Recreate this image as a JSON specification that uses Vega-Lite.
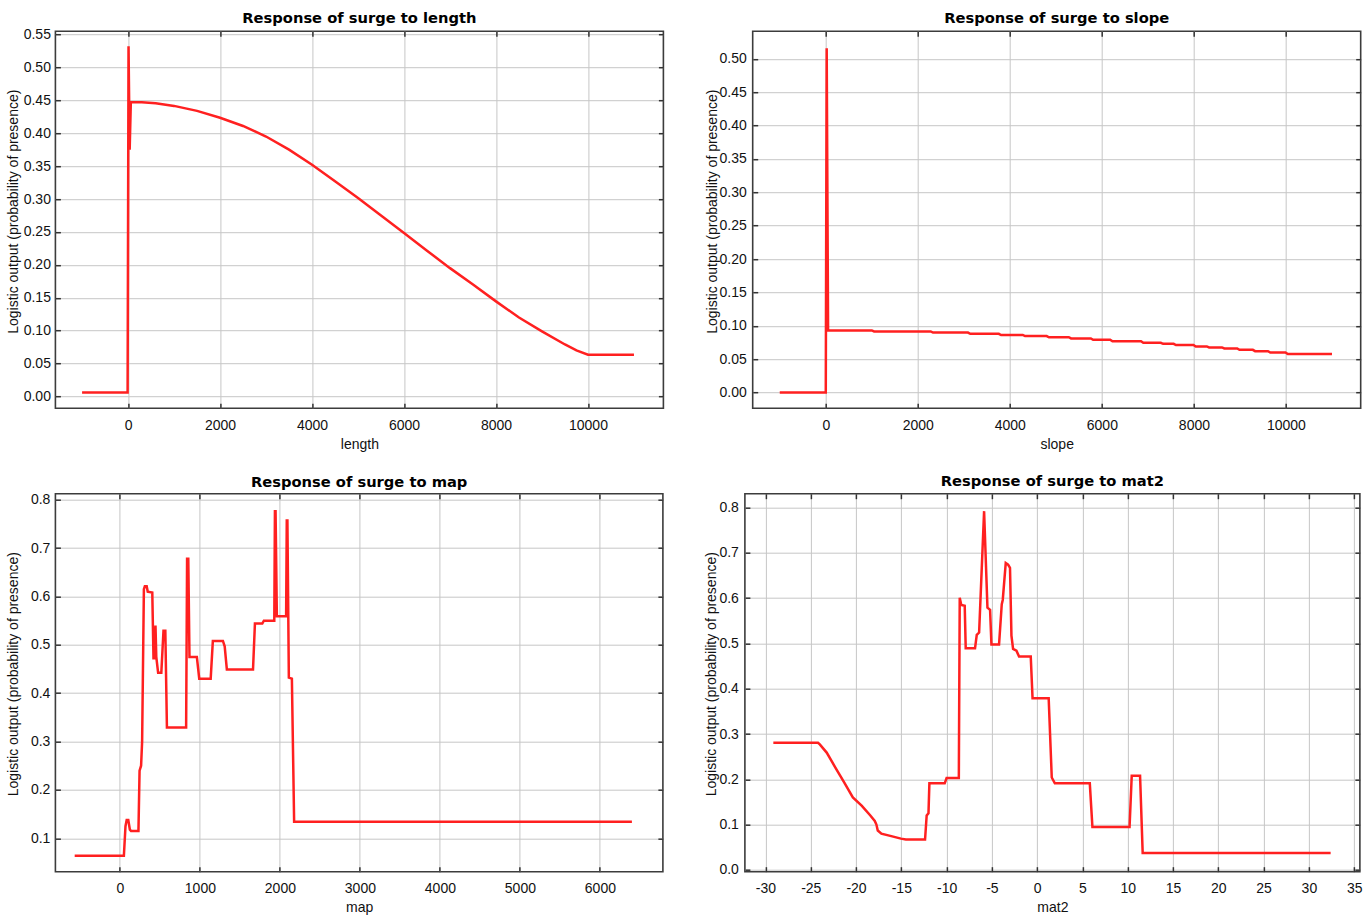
{
  "$schema": "https://vega.github.io/schema/vega-lite/v6.json",
  "background": "white",
  "padding": {"left": 5.4, "top": 9.2, "right": 4, "bottom": 0},
  "config": {
    "view": {"stroke": "#3c3c3c", "strokeWidth": 1.6},
    "axis": {
      "labelFont": "Liberation Sans", "labelFontSize": 14, "labelColor": "#111111",
      "titleFont": "Liberation Sans", "titleFontSize": 14, "titleFontWeight": "normal", "titleColor": "#111111",
      "gridColor": "#c6c6c6", "gridWidth": 1, "gridOpacity": 1,
      "tickColor": "#333333", "tickWidth": 1.5, "domain": false,
      "labelOverlap": false, "labelFlush": false, "labelBound": false
    },
    "title": {"font": "DejaVu Sans", "fontSize": 14.7, "fontWeight": "bold", "color": "#000000", "anchor": "middle", "frame": "group"},
    "line": {"color": "#ff2020", "strokeWidth": 2.5}
  },
  "spacing": 20.5,
  "vconcat": [
    {
      "spacing": 38.3,
      "hconcat": [
        {
          "width": 608, "height": 377,
          "title": {"text": "Response of surge to length", "offset": 1.5, "frame": "group"},
          "data": {"values": [
            {"value": -1000, "probability": 0.006}, {"value": -10, "probability": 0.006},
            {"value": 10, "probability": 0.532}, {"value": 35, "probability": 0.375},
            {"value": 60, "probability": 0.447}, {"value": 300, "probability": 0.447},
            {"value": 600, "probability": 0.4455}, {"value": 1000, "probability": 0.4415},
            {"value": 1500, "probability": 0.434}, {"value": 2000, "probability": 0.4235},
            {"value": 2500, "probability": 0.411}, {"value": 3000, "probability": 0.395},
            {"value": 3500, "probability": 0.375}, {"value": 4000, "probability": 0.352},
            {"value": 4500, "probability": 0.327}, {"value": 5000, "probability": 0.3015},
            {"value": 5500, "probability": 0.275}, {"value": 6000, "probability": 0.2485},
            {"value": 6500, "probability": 0.2215}, {"value": 7000, "probability": 0.195},
            {"value": 7500, "probability": 0.17}, {"value": 8000, "probability": 0.1445},
            {"value": 8500, "probability": 0.12}, {"value": 9000, "probability": 0.099},
            {"value": 9500, "probability": 0.079}, {"value": 9750, "probability": 0.07},
            {"value": 10000, "probability": 0.0634}, {"value": 11000, "probability": 0.0634}
          ]},
          "layer": [
            {
              "mark": {"type": "line"},
              "encoding": {
                "x": {"field": "value", "type": "quantitative",
                  "scale": {"domain": [-1580, 11640], "nice": false, "zero": false},
                  "axis": {"orient": "bottom", "title": "length", "values": [0, 2000, 4000, 6000, 8000, 10000], "format": "d",
                    "tickSize": -5, "labelPadding": 15, "minExtent": 24, "maxExtent": 24, "titlePadding": 5}},
                "y": {"field": "probability", "type": "quantitative",
                  "scale": {"domain": [-0.0178, 0.555], "nice": false, "zero": false},
                  "axis": {"orient": "left", "title": "Logistic output (probability of presence)",
                    "values": [0, 0.05, 0.1, 0.15, 0.2, 0.25, 0.3, 0.35, 0.4, 0.45, 0.5, 0.55], "format": ".2f",
                    "tickSize": -5, "labelPadding": 10, "minExtent": 32, "maxExtent": 32, "titlePadding": 3, "titleY": 180}}
              }
            },
            {
              "mark": {"type": "line", "opacity": 0},
              "encoding": {
                "x": {"field": "value", "type": "quantitative",
                  "axis": {"orient": "top", "title": null, "labels": false, "grid": false, "values": [0, 2000, 4000, 6000, 8000, 10000], "tickSize": -5}},
                "y": {"field": "probability", "type": "quantitative",
                  "axis": {"orient": "right", "title": null, "labels": false, "grid": false, "values": [0, 0.05, 0.1, 0.15, 0.2, 0.25, 0.3, 0.35, 0.4, 0.45, 0.5, 0.55], "tickSize": -5}}
              }
            }
          ],
          "resolve": {"axis": {"x": "independent", "y": "independent"}}
        },
        {
          "width": 608, "height": 377,
          "title": {"text": "Response of surge to slope", "offset": 5, "frame": "group"},
          "data": {"values": [
            {"value": -1000, "probability": 0.0}, {"value": 0, "probability": 0.0},
            {"value": 20, "probability": 0.516}, {"value": 50, "probability": 0.093},
            {"value": 1000, "probability": 0.093}, {"value": 1050, "probability": 0.0915},
            {"value": 2280, "probability": 0.0915}, {"value": 2330, "probability": 0.0898},
            {"value": 3090, "probability": 0.0898}, {"value": 3140, "probability": 0.088},
            {"value": 3760, "probability": 0.088}, {"value": 3810, "probability": 0.0862},
            {"value": 4280, "probability": 0.0862}, {"value": 4330, "probability": 0.0845},
            {"value": 4800, "probability": 0.0845}, {"value": 4850, "probability": 0.0828},
            {"value": 5280, "probability": 0.0828}, {"value": 5330, "probability": 0.081},
            {"value": 5760, "probability": 0.081}, {"value": 5810, "probability": 0.079},
            {"value": 6180, "probability": 0.079}, {"value": 6230, "probability": 0.0768},
            {"value": 6850, "probability": 0.0768}, {"value": 6900, "probability": 0.0745},
            {"value": 7280, "probability": 0.0745}, {"value": 7330, "probability": 0.073},
            {"value": 7560, "probability": 0.073}, {"value": 7610, "probability": 0.0712},
            {"value": 7990, "probability": 0.0712}, {"value": 8040, "probability": 0.069},
            {"value": 8280, "probability": 0.069}, {"value": 8330, "probability": 0.0675},
            {"value": 8610, "probability": 0.0675}, {"value": 8660, "probability": 0.066},
            {"value": 8940, "probability": 0.066}, {"value": 8990, "probability": 0.064},
            {"value": 9280, "probability": 0.064}, {"value": 9330, "probability": 0.062},
            {"value": 9610, "probability": 0.062}, {"value": 9660, "probability": 0.06},
            {"value": 9990, "probability": 0.06}, {"value": 10040, "probability": 0.0577},
            {"value": 11000, "probability": 0.0577}
          ]},
          "layer": [
            {
              "mark": {"type": "line"},
              "encoding": {
                "x": {"field": "value", "type": "quantitative",
                  "scale": {"domain": [-1588, 11624], "nice": false, "zero": false},
                  "axis": {"orient": "bottom", "title": "slope", "values": [0, 2000, 4000, 6000, 8000, 10000], "format": "d",
                    "tickSize": -5, "labelPadding": 15, "minExtent": 24, "maxExtent": 24, "titlePadding": 5}},
                "y": {"field": "probability", "type": "quantitative",
                  "scale": {"domain": [-0.0235, 0.5414], "nice": false, "zero": false},
                  "axis": {"orient": "left", "title": "Logistic output (probability of presence)",
                    "values": [0, 0.05, 0.1, 0.15, 0.2, 0.25, 0.3, 0.35, 0.4, 0.45, 0.5], "format": ".2f",
                    "tickSize": -5, "labelPadding": 11.5, "minExtent": 33.5, "maxExtent": 33.5, "titlePadding": 0, "titleY": 180}}
              }
            },
            {
              "mark": {"type": "line", "opacity": 0},
              "encoding": {
                "x": {"field": "value", "type": "quantitative",
                  "axis": {"orient": "top", "title": null, "labels": false, "grid": false, "values": [0, 2000, 4000, 6000, 8000, 10000], "tickSize": -5}},
                "y": {"field": "probability", "type": "quantitative",
                  "axis": {"orient": "right", "title": null, "labels": false, "grid": false, "values": [0, 0.05, 0.1, 0.15, 0.2, 0.25, 0.3, 0.35, 0.4, 0.45, 0.5], "tickSize": -5}}
              }
            }
          ],
          "resolve": {"axis": {"x": "independent", "y": "independent"}}
        }
      ]
    },
    {
      "spacing": 37.5,
      "hconcat": [
        {
          "width": 607.5, "height": 378,
          "title": {"text": "Response of surge to map", "offset": 3, "frame": "group"},
          "data": {"values": [
            {"value": -565, "probability": 0.064}, {"value": 50, "probability": 0.064},
            {"value": 70, "probability": 0.125}, {"value": 85, "probability": 0.138},
            {"value": 105, "probability": 0.138}, {"value": 125, "probability": 0.118},
            {"value": 140, "probability": 0.115}, {"value": 232, "probability": 0.115},
            {"value": 246, "probability": 0.24}, {"value": 265, "probability": 0.25},
            {"value": 278, "probability": 0.3}, {"value": 300, "probability": 0.615},
            {"value": 312, "probability": 0.621}, {"value": 335, "probability": 0.621},
            {"value": 348, "probability": 0.61}, {"value": 405, "probability": 0.608},
            {"value": 420, "probability": 0.472}, {"value": 432, "probability": 0.472},
            {"value": 445, "probability": 0.54}, {"value": 455, "probability": 0.475},
            {"value": 478, "probability": 0.442}, {"value": 518, "probability": 0.442},
            {"value": 545, "probability": 0.529}, {"value": 568, "probability": 0.529},
            {"value": 588, "probability": 0.329}, {"value": 828, "probability": 0.329},
            {"value": 840, "probability": 0.678}, {"value": 855, "probability": 0.678},
            {"value": 870, "probability": 0.475}, {"value": 962, "probability": 0.475},
            {"value": 992, "probability": 0.43}, {"value": 1135, "probability": 0.43},
            {"value": 1162, "probability": 0.508}, {"value": 1288, "probability": 0.508},
            {"value": 1310, "probability": 0.497}, {"value": 1337, "probability": 0.449},
            {"value": 1664, "probability": 0.449}, {"value": 1688, "probability": 0.544},
            {"value": 1780, "probability": 0.544}, {"value": 1800, "probability": 0.55},
            {"value": 1930, "probability": 0.55}, {"value": 1938, "probability": 0.776},
            {"value": 1946, "probability": 0.776}, {"value": 1962, "probability": 0.559},
            {"value": 2078, "probability": 0.559}, {"value": 2086, "probability": 0.757},
            {"value": 2094, "probability": 0.757}, {"value": 2112, "probability": 0.432},
            {"value": 2150, "probability": 0.43}, {"value": 2178, "probability": 0.134},
            {"value": 6400, "probability": 0.134}
          ]},
          "layer": [
            {
              "mark": {"type": "line"},
              "encoding": {
                "x": {"field": "value", "type": "quantitative",
                  "scale": {"domain": [-806, 6787.5], "nice": false, "zero": false},
                  "axis": {"orient": "bottom", "title": "map", "values": [0, 1000, 2000, 3000, 4000, 5000, 6000], "format": "d",
                    "tickSize": -5, "labelPadding": 15, "minExtent": 24, "maxExtent": 24, "titlePadding": 5}},
                "y": {"field": "probability", "type": "quantitative",
                  "scale": {"domain": [0.031, 0.8124], "nice": false, "zero": false},
                  "axis": {"orient": "left", "title": "Logistic output (probability of presence)",
                    "values": [0.1, 0.2, 0.3, 0.4, 0.5, 0.6, 0.7, 0.8], "format": ".1f",
                    "tickSize": -5, "labelPadding": 10.5, "minExtent": 32, "maxExtent": 32, "titlePadding": 3, "titleY": 180}}
              }
            },
            {
              "mark": {"type": "line", "opacity": 0},
              "encoding": {
                "x": {"field": "value", "type": "quantitative",
                  "axis": {"orient": "top", "title": null, "labels": false, "grid": false, "values": [0, 1000, 2000, 3000, 4000, 5000, 6000], "tickSize": -5}},
                "y": {"field": "probability", "type": "quantitative",
                  "axis": {"orient": "right", "title": null, "labels": false, "grid": false, "values": [0.1, 0.2, 0.3, 0.4, 0.5, 0.6, 0.7, 0.8], "tickSize": -5}}
              }
            }
          ],
          "resolve": {"axis": {"x": "independent", "y": "independent"}}
        },
        {
          "width": 615, "height": 378,
          "title": {"text": "Response of surge to mat2", "offset": 4, "frame": "group"},
          "data": {"values": [
            {"value": -29.13, "probability": 0.2805}, {"value": -24.2, "probability": 0.2805},
            {"value": -24.0, "probability": 0.277}, {"value": -23.24, "probability": 0.259},
            {"value": -22.28, "probability": 0.226}, {"value": -21.31, "probability": 0.193},
            {"value": -20.35, "probability": 0.16}, {"value": -19.38, "probability": 0.142},
            {"value": -18.42, "probability": 0.12}, {"value": -17.93, "probability": 0.108},
            {"value": -17.75, "probability": 0.1}, {"value": -17.6, "probability": 0.087},
            {"value": -17.2, "probability": 0.08}, {"value": -16.0, "probability": 0.074},
            {"value": -15.04, "probability": 0.069}, {"value": -14.5, "probability": 0.067},
            {"value": -12.38, "probability": 0.067}, {"value": -12.2, "probability": 0.12},
            {"value": -12.0, "probability": 0.125}, {"value": -11.9, "probability": 0.191},
            {"value": -10.21, "probability": 0.191}, {"value": -10.0, "probability": 0.2026},
            {"value": -8.65, "probability": 0.2026}, {"value": -8.55, "probability": 0.601},
            {"value": -8.38, "probability": 0.585}, {"value": -8.0, "probability": 0.583},
            {"value": -7.89, "probability": 0.4896}, {"value": -6.86, "probability": 0.4896},
            {"value": -6.67, "probability": 0.519}, {"value": -6.41, "probability": 0.524},
            {"value": -5.86, "probability": 0.792}, {"value": -5.49, "probability": 0.579},
            {"value": -5.2, "probability": 0.574}, {"value": -5.05, "probability": 0.4975},
            {"value": -4.21, "probability": 0.4975}, {"value": -3.91, "probability": 0.5865},
            {"value": -3.8, "probability": 0.596}, {"value": -3.47, "probability": 0.6776},
            {"value": -3.21, "probability": 0.674}, {"value": -3.0, "probability": 0.667},
            {"value": -2.84, "probability": 0.517}, {"value": -2.66, "probability": 0.488},
            {"value": -2.29, "probability": 0.484}, {"value": -2.0, "probability": 0.471},
            {"value": -0.71, "probability": 0.471}, {"value": -0.51, "probability": 0.379},
            {"value": 1.27, "probability": 0.379}, {"value": 1.61, "probability": 0.204},
            {"value": 1.95, "probability": 0.191}, {"value": 5.81, "probability": 0.191},
            {"value": 6.1, "probability": 0.0947}, {"value": 10.2, "probability": 0.0947},
            {"value": 10.44, "probability": 0.2077}, {"value": 11.36, "probability": 0.2077},
            {"value": 11.65, "probability": 0.037}, {"value": 32.4, "probability": 0.037}
          ]},
          "layer": [
            {
              "mark": {"type": "line"},
              "encoding": {
                "x": {"field": "value", "type": "quantitative",
                  "scale": {"domain": [-32.27, 35.63], "nice": false, "zero": false},
                  "axis": {"orient": "bottom", "title": "mat2", "values": [-30, -25, -20, -15, -10, -5, 0, 5, 10, 15, 20, 25, 30, 35],
                    "labelExpr": "'' + datum.value",
                    "tickSize": -5, "labelPadding": 15, "minExtent": 24, "maxExtent": 24, "titlePadding": 5}},
                "y": {"field": "probability", "type": "quantitative",
                  "scale": {"domain": [-0.004, 0.8306], "nice": false, "zero": false},
                  "axis": {"orient": "left", "title": "Logistic output (probability of presence)",
                    "values": [0, 0.1, 0.2, 0.3, 0.4, 0.5, 0.6, 0.7, 0.8], "format": ".1f",
                    "tickSize": -5, "labelPadding": 11.5, "minExtent": 26.6, "maxExtent": 26.6, "titlePadding": 0, "titleY": 180}}
              }
            },
            {
              "mark": {"type": "line", "opacity": 0},
              "encoding": {
                "x": {"field": "value", "type": "quantitative",
                  "axis": {"orient": "top", "title": null, "labels": false, "grid": false, "values": [-30, -25, -20, -15, -10, -5, 0, 5, 10, 15, 20, 25, 30, 35], "tickSize": -5}},
                "y": {"field": "probability", "type": "quantitative",
                  "axis": {"orient": "right", "title": null, "labels": false, "grid": false, "values": [0, 0.1, 0.2, 0.3, 0.4, 0.5, 0.6, 0.7, 0.8], "tickSize": -5}}
              }
            }
          ],
          "resolve": {"axis": {"x": "independent", "y": "independent"}}
        }
      ]
    }
  ]
}
